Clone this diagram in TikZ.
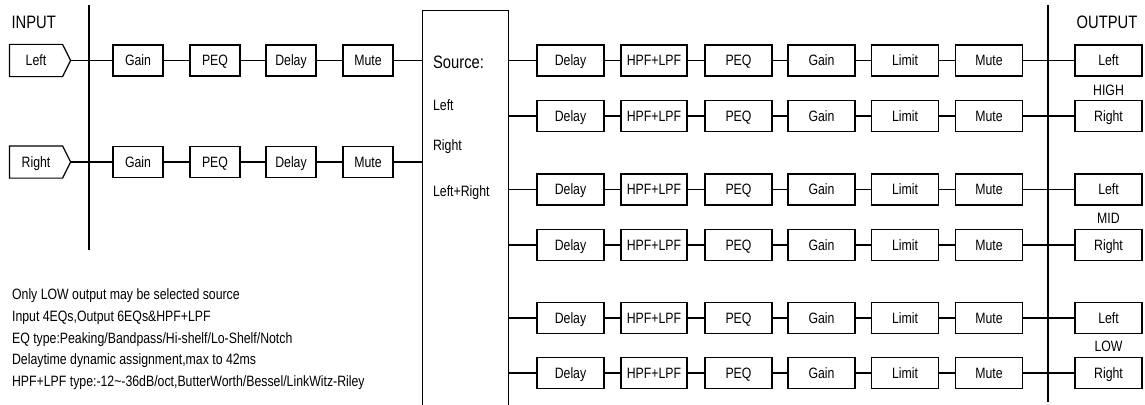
\documentclass[tikz,border=0pt]{standalone}
\usepackage{fontspec}
\setmainfont{Liberation Sans}[FakeStretch=0.82]
\begin{document}
\begin{tikzpicture}[x=1pt,y=-1pt,line width=1.2pt,
  blk/.style={draw,minimum width=50pt,minimum height=31pt,inner sep=0pt,
    font=\fontsize{15}{15}\selectfont,text height=10.7pt,text depth=0pt},
  oblk/.style={blk,minimum width=67pt},
  inbox/.style={blk,draw=none,minimum width=52pt},
  big/.style={font=\fontsize{18}{18}\selectfont,inner sep=0pt},
  small/.style={font=\fontsize{15}{15}\selectfont,inner sep=0pt},
  note/.style={font=\fontsize{15}{15}\selectfont,inner sep=0pt,anchor=base west}]
\useasboundingbox (0,0) rectangle (1145,404);

% headings
\node[big,anchor=base west] (tin) at (11,28.3) {INPUT};
\node[big,anchor=base east] (tout) at (1138,28.3) {OUTPUT};

% bus lines
\coordinate (inTop) at (89,5);
\coordinate (inBot) at (89,250);
\coordinate (outTop) at (1048,5);
\coordinate (outBot) at (1048,402);
\draw (inTop) -- (inBot);
\draw (outTop) -- (outBot);

% source box
\node[draw,anchor=north west,minimum width=86pt,minimum height=420pt,inner sep=0pt] (src) at (422,10) {};
\node[big,anchor=base west] (srct) at (432.5,68.3) {Source:};
\node[small,anchor=base west] (srcl) at (432.5,110) {Left};
\node[small,anchor=base west] (srcr) at (432.5,150) {Right};
\node[small,anchor=base west] (srclr) at (432.5,196.5) {Left+Right};

% input chains
\foreach \y/\nm/\k in {60.5/Left/1,162/Right/2}{
  \node[inbox] (in\k) at (36,\y) {\nm};
  \coordinate (tip\k) at ([xshift=8pt]in\k.east);
  \draw (in\k.north west) -- (in\k.north east) -- (tip\k) -- (in\k.south east) -- (in\k.south west) -- cycle;
  \node[blk] (ig\k) at (138,\y) {Gain};
  \node[blk] (ip\k) at (215,\y) {PEQ};
  \node[blk] (id\k) at (291,\y) {Delay};
  \node[blk] (im\k) at (368,\y) {Mute};
  \draw (tip\k) -- (ig\k.west);
  \draw (ig\k) -- (ip\k);
  \draw (ip\k) -- (id\k);
  \draw (id\k) -- (im\k);
  \draw (im\k.east) -- (src.west |- im\k.east);
}

% output chains
\foreach \y/\nm [count=\k] in {60.5/Left,116/Right,189.5/Left,245/Right,318/Left,373/Right}{
  \node[oblk] (od\k) at (570.5,\y) {Delay};
  \node[oblk,minimum width=66pt] (of\k) at (654,\y) {HPF+LPF};
  \node[oblk] (oq\k) at (738.5,\y) {PEQ};
  \node[oblk] (og\k) at (821.5,\y) {Gain};
  \node[oblk] (ol\k) at (905,\y) {Limit};
  \node[oblk] (om\k) at (989,\y) {Mute};
  \node[oblk] (oo\k) at (1108.5,\y) {\nm};
  \draw (src.east |- od\k.west) -- (od\k.west);
  \draw (od\k) -- (of\k);
  \draw (of\k) -- (oq\k);
  \draw (oq\k) -- (og\k);
  \draw (og\k) -- (ol\k);
  \draw (ol\k) -- (om\k);
  \draw (om\k.east) -- (oo\k.west);
}

% band labels
\node[small,anchor=base] (lh) at (1108.5,95) {HIGH};
\node[small,anchor=base] (lm) at (1108.5,223.3) {MID};
\node[small,anchor=base] (ll) at (1108.5,351.7) {LOW};

% notes
\node[note] (n1) at (11.5,299.3) {Only LOW output may be selected source};
\node[note] (n2) at (11.5,321.1) {Input 4EQs,Output 6EQs\&HPF+LPF};
\node[note] (n3) at (11.5,343) {EQ type:Peaking/Bandpass/Hi-shelf/Lo-Shelf/Notch};
\node[note] (n4) at (11.5,364.8) {Delaytime dynamic assignment,max to 42ms};
\node[note] (n5) at (11.5,386.6) {HPF+LPF type:-12\textasciitilde{}-36dB/oct,ButterWorth/Bessel/LinkWitz-Riley};
\end{tikzpicture}
\end{document}
